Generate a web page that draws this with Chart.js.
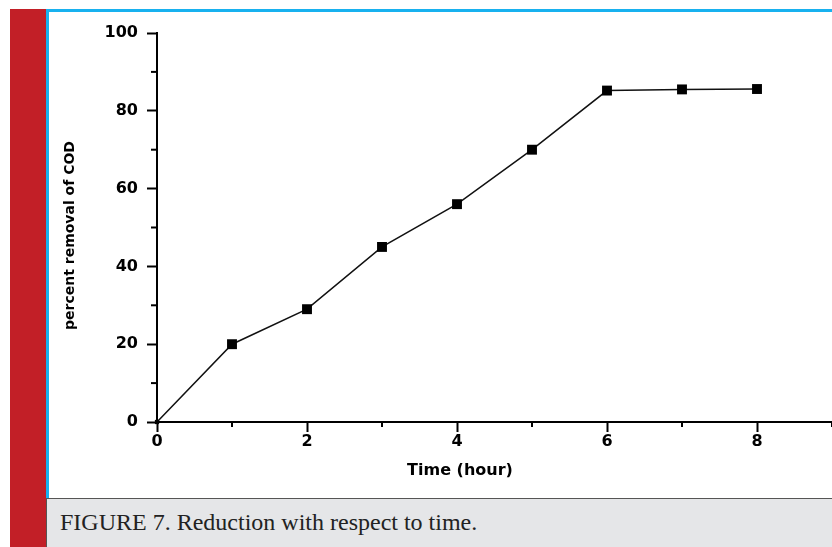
<!DOCTYPE html>
<html>
<head>
<meta charset="utf-8">
<script src="https://cdn.jsdelivr.net/npm/chart.js@4"></script>
<style>
  html, body { margin: 0; padding: 0; background: #fff; }
  #page { position: relative; width: 832px; height: 547px; overflow: hidden; }
  #redbar { position: absolute; left: 10px; top: 9px; width: 36px; height: 538px; background: #c21f27; }
  #frame { position: absolute; left: 46px; top: 9px; width: 800px; height: 486px;
           border-top: 3px solid #18b1ef; border-left: 3px solid #18b1ef; border-bottom: 3px solid #18b1ef; background: #fff; }
  #caption { position: absolute; left: 46px; top: 498px; width: 786px; height: 49px; background: #e5e6e8;
             border-top: 1px solid #555; border-left: 1px solid #555; box-sizing: border-box; }
  #caption span { position: absolute; left: 13px; top: 11px; font: 24px/1 "Liberation Serif", serif; color: #222; white-space: nowrap; }
  canvas { position: absolute; left: 0; top: 0; }
</style>
</head>
<body>
<div id="page">
  <div id="redbar"></div>
  <div id="frame"></div>
  <div id="caption"><span>FIGURE 7. Reduction with respect to time.</span></div>
  <canvas id="chart" width="832" height="547"></canvas>
</div>
<script>
// data
const hours = [0, 1, 2, 3, 4, 5, 6, 7, 8];
const codRemoval = [0, 20, 29, 45, 56, 70, 85.2, 85.5, 85.6];
const xMinorTicks = [1, 3, 5, 7, 9];
const yMinorTicks = [10, 30, 50, 70, 90];
const xTitle = 'Time (hour)';
const yTitle = 'percent removal of COD';

const tickFont = { family: 'DejaVu Sans', weight: 'bold', size: 16 };

// short minor ticks + axis titles placed like the original plot
const extras = {
  id: 'extras',
  afterDraw(chart) {
    const { ctx, scales: { x, y } } = chart;
    ctx.save();
    ctx.strokeStyle = '#000';
    ctx.lineWidth = 2;
    xMinorTicks.forEach(v => {
      const px = x.getPixelForValue(v);
      ctx.beginPath();
      ctx.moveTo(px, x.top);
      ctx.lineTo(px, x.top + 5);
      ctx.stroke();
    });
    yMinorTicks.forEach(v => {
      const py = y.getPixelForValue(v);
      ctx.beginPath();
      ctx.moveTo(y.right, py);
      ctx.lineTo(y.right - 6, py);
      ctx.stroke();
    });

    ctx.fillStyle = '#000';
    ctx.textAlign = 'center';
    ctx.textBaseline = 'middle';
    ctx.font = 'bold 16px "DejaVu Sans"';
    ctx.fillText(xTitle, x.getPixelForValue(4.04), x.bottom - 26);

    ctx.translate(y.left + 22, (y.top + y.bottom) / 2 + 8);
    ctx.rotate(-Math.PI / 2);
    ctx.font = 'bold 14px "DejaVu Sans"';
    ctx.fillText(yTitle, 0, 0);
    ctx.restore();
  }
};

new Chart(document.getElementById('chart'), {
  type: 'scatter',
  data: {
    datasets: [{
      data: hours.map((h, i) => ({ x: h, y: codRemoval[i] })),
      showLine: true,
      borderColor: '#111',
      borderWidth: 1.5,
      backgroundColor: '#000',
      pointBackgroundColor: '#000',
      pointBorderColor: '#000',
      pointBorderWidth: 0,
      pointStyle: 'rect',
      pointRadius: hours.map((h, i) => i === 0 ? 3 : 7),
      clip: false
    }]
  },
  options: {
    responsive: false,
    animation: false,
    layout: { autoPadding: false, padding: { left: 48, top: 33, right: 0, bottom: 50 } },
    plugins: { legend: { display: false }, tooltip: { enabled: false } },
    scales: {
      x: {
        type: 'linear',
        min: 0,
        max: 9,
        afterFit: s => { s.height = 75; },
        border: { display: true, color: '#000', width: 2 },
        grid: { drawOnChartArea: false, drawTicks: true, tickLength: 10, tickWidth: 2, tickColor: '#000' },
        ticks: { stepSize: 2, includeBounds: false, padding: 0, color: '#000', font: tickFont }
      },
      y: {
        min: 0,
        max: 100,
        afterFit: s => { s.width = 109; },
        border: { display: true, color: '#000', width: 2 },
        grid: { drawOnChartArea: false, drawTicks: true, tickLength: 10, tickWidth: 2, tickColor: '#000' },
        ticks: { stepSize: 20, includeBounds: false, padding: 9, color: '#000', font: tickFont }
      }
    }
  },
  plugins: [extras]
});
</script>
</body>
</html>
